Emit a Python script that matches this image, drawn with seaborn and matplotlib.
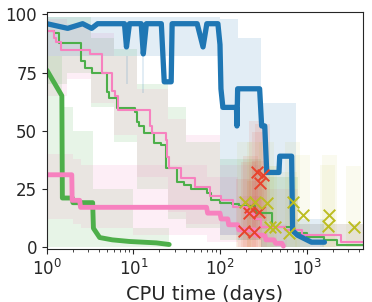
import numpy as np
import matplotlib
matplotlib.use("Agg")
import matplotlib.pyplot as plt
import seaborn as sns

sns.set_style("ticks")
plt.rcParams['font.family'] = ['DejaVu Sans']

# colours
blue = '#1f77b4'
green = '#4daf4a'
pink = '#f781bf'
red = '#e8432c'
olive = '#bcbd22'

# thick blue run (linear)
blue_x = [1, 1.74, 2.59, 3.29, 3.86, 7.88, 8.31, 9.0, 12.3, 13.0, 14.1, 21, 22.7, 27.3, 28,
          54.5, 63.7, 70.5, 94.6, 100, 102.6, 108, 155, 157, 160, 287, 303, 329, 347, 480, 490,
          673, 690, 787, 1140, 1610]
blue_y = [96, 94, 96, 94, 96, 96, 86, 96, 96, 83, 96, 96, 71, 71, 96,
          96, 86, 96, 96, 87, 68, 60, 60, 52, 68, 68, 52, 52, 32, 32, 39,
          39, 7, 5, 2, 2]

# thick green run (linear)
green_x = [1, 1.49, 1.51, 1.97, 2.0, 3.38, 3.45, 4.07, 5.7, 9, 18.4, 25.9]
green_y = [76, 65, 21, 21, 19, 19, 8, 4, 3, 2.3, 1.7, 1]

# thick pink run (linear)
pink_x = [1, 1.94, 1.96, 2.39, 2.45, 70, 72, 100, 103, 123, 126, 160, 165, 250, 260, 330, 340,
          420, 440, 520, 540]
pink_y = [31, 31, 20, 20, 17, 17, 14.5, 14.5, 12, 12, 9.5, 9.5, 7.3, 7.3, 5, 5, 3,
          3, 1.5, 1.5, 0.3]

# thin green run (steps)
tgreen_x = [1, 1.2, 1.38, 2.5, 2.75, 3.3, 4.9, 5.2, 6.4, 10.5, 11, 11.7, 13.3, 17.5, 21, 23.7,
            32, 38, 46, 70, 78, 100, 137, 165, 255, 262, 400, 700, 1000, 1600, 2250, 4500]
tgreen_y = [92.7, 92, 87.5, 80, 77, 75, 66.5, 64, 59.6, 58, 53.6, 52, 49, 44.6, 43.8, 34,
            28, 26.6, 25, 23, 20, 19, 18.5, 17.5, 16, 14.6, 8.6, 6, 4.3, 3, 1, 1]

# thin pink run (steps)
tpink_x = [1, 1.2, 1.27, 1.45, 3.15, 4.35, 5.7, 6.2, 6.7, 15.5, 16.3, 23.5, 24.3, 25.5, 35,
           52, 76, 102, 142, 205, 250, 300, 560, 880, 2500, 4500]
tpink_y = [92.7, 90, 88, 84.5, 83, 75, 67, 65, 58.8, 52, 49, 46, 38.6, 34, 29.6,
           25.8, 22, 20, 17, 14, 12, 8.6, 7.3, 5, 2, 2]

# spread bands (steps)
bband_x = [1, 8.1, 8.6, 12.7, 13.4, 100, 160, 300, 750, 1600]
bband_lo = [82, 70, 82, 66, 82, 5, 3, 0, 0, 0]
bband_hi = [99, 99, 99, 99, 99, 98, 90, 62, 12, 12]

gband_x = [1, 1.5, 2, 3.4, 10, 26]
gband_lo = [0, 0, 0, 0, 0, 0]
gband_hi = [82, 60, 50, 25, 8, 8]

pband_x = [1, 2, 2.5, 10, 70, 160, 300, 600]
pband_lo = [12, 10, 8, 5, 2, 0, 0, 0]
pband_hi = [40, 38, 35, 35, 30, 22, 10, 10]

tgband_x = [1, 1.7, 3.2, 6, 11, 25, 40, 100, 300, 800, 4500]
tgband_lo = [70, 75, 60, 45, 25, 12, 8, 3, 0, 0, 0]
tgband_hi = [99, 99, 90, 85, 70, 60, 45, 38, 30, 10, 10]

tpband_x = [1, 1.7, 3.2, 6, 11, 25, 40, 100, 300, 800, 4500]
tpband_lo = [65, 72, 62, 48, 30, 15, 10, 5, 0, 0, 0]
tpband_hi = [98, 96, 92, 82, 68, 55, 48, 35, 25, 10, 10]

# final results of other runs
red_x = [266, 310, 287, 225, 215, 285, 189, 250]
red_y = [32, 31, 27.5, 17, 14.5, 15, 7, 6.5]
olive_x = [194, 253, 347, 376, 430, 690, 900, 635, 1840, 1750, 3500]
olive_y = [19.3, 19.3, 19, 8.6, 8.6, 19.3, 13.7, 6, 13.7, 9, 8.6]

fig = plt.figure(figsize=(3.72, 3.02), dpi=100)
ax = fig.add_axes([0.126, 0.175, 0.85, 0.785])

for bx, lo, hi, c in [(tgband_x, tgband_lo, tgband_hi, green),
                      (tpband_x, tpband_lo, tpband_hi, pink),
                      (gband_x, gband_lo, gband_hi, green),
                      (pband_x, pband_lo, pband_hi, pink),
                      (bband_x, bband_lo, bband_hi, blue)]:
    ax.fill_between(bx, lo, hi, step='post', color=c, alpha=0.13, lw=0)

# spread boxes round the single results
for xs, ys, c, a, up in [(red_x, red_y, red, 0.09, 22), (olive_x, olive_y, olive, 0.07, 26)]:
    for px, py in zip(xs, ys):
        ax.fill_between([px / 1.22, px * 1.22], [max(py - 20, 0)] * 2, [py + up] * 2,
                        color=c, alpha=a, lw=0)

sns.lineplot(x=tgreen_x, y=tgreen_y, ax=ax, color=green, lw=1.5, drawstyle='steps-post',
             estimator=None, sort=False)
sns.lineplot(x=tpink_x, y=tpink_y, ax=ax, color=pink, lw=1.5, drawstyle='steps-post',
             estimator=None, sort=False)
sns.lineplot(x=green_x, y=green_y, ax=ax, color=green, lw=3.5, estimator=None, sort=False)
sns.lineplot(x=pink_x, y=pink_y, ax=ax, color=pink, lw=3.5, estimator=None, sort=False)
sns.lineplot(x=blue_x, y=blue_y, ax=ax, color=blue, lw=3.8, estimator=None, sort=False)

sns.scatterplot(x=red_x, y=red_y, ax=ax, marker='x', color=red, s=70, linewidth=1.4, zorder=5)
sns.scatterplot(x=olive_x, y=olive_y, ax=ax, marker='x', color=olive, s=70, linewidth=1.4, zorder=5)

ax.set_xscale('log')
ax.set_xlim(1, 4500)
ax.set_ylim(-1, 101)
ax.set_yticks([0, 25, 50, 75, 100])
ax.tick_params(labelsize=12)
ax.set_xlabel('CPU time (days)', fontsize=14)

fig.savefig('out.png', dpi=100)
